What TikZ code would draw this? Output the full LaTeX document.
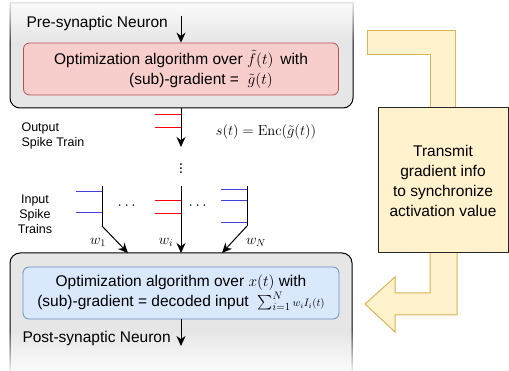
\RequirePackage{fix-cm}
\documentclass[tikz,border=0pt]{standalone}
\usepackage{amsmath}
\usepackage[no-math]{fontspec}
\setmainfont{Liberation Sans}
\usetikzlibrary{fadings,positioning,calc,arrows.meta}
\definecolor{pinkfill}{HTML}{F8CECC}
\definecolor{pinkline}{HTML}{B85450}
\definecolor{bluefill}{HTML}{DAE8FC}
\definecolor{blueline}{HTML}{6C8EBF}
\definecolor{yellowfill}{HTML}{FFF2CC}
\definecolor{yellowline}{HTML}{D6B656}
\definecolor{grayfill}{HTML}{E6E6E6}
\definecolor{spikeblue}{HTML}{3F3FD9}

\begin{document}
\begin{tikzpicture}[x=1pt,y=-1pt,
	every node/.style={font=\fontsize{15.5}{20}\selectfont},
	arr/.style={black,line width=1pt,-{Stealth[length=10pt,width=9pt]}},
	smalltext/.style={font=\fontsize{12.5}{15}\selectfont},
	mathlabel/.style={font=\fontsize{14.5}{16}\selectfont},
	yellowarrow/.style={fill=yellowfill,draw=yellowline,line width=1pt}]
	\useasboundingbox (0,0) rectangle (509,371);
	
	% pre-synaptic neuron
	\fill[grayfill] (10,3) -- (353,3) {[rounded corners=10] -- (353,108) -- (10,108)} -- cycle;
	\draw[black,line width=1pt] (10,3) -- (353,3) {[rounded corners=10] -- (353,108) -- (10,108)} -- cycle;
	\fill[white,fill opacity=0.85,path fading=south] (9,2) rectangle (354,42);
	
	% post-synaptic neuron
	\fill[grayfill] (10,372) {[rounded corners=10] -- (10,253) -- (352,253)} -- (352,372) -- cycle;
	\draw[black,line width=1pt] (10,372) {[rounded corners=10] -- (10,253) -- (352,253)} -- (352,372);
	\fill[white,fill opacity=0.9,path fading=north] (9,330) rectangle (353,372);
	
	\node[anchor=west] (pre label) at (23,23) {Pre-synaptic Neuron};
	\node[draw=pinkline,fill=pinkfill,rounded corners=6,line width=0.8pt,minimum width=315,minimum height=52,align=center] (pink) at (181,69)
		{Optimization algorithm over $\tilde{f}(t)$\ \,with\\\hspace*{40pt}(sub)-gradient = \ $\tilde{g}(t)$};
	\coordinate (Above pink) at (181,16);
	\draw[arr] (Above pink) -- (pink.north);
	
	\node[draw=blueline,fill=bluefill,rounded corners=6,line width=0.8pt,minimum width=316,minimum height=52,align=center] (blue) at (181,293)
		{Optimization algorithm over $x(t)$ with\\(sub)-gradient = decoded input \ $\sum_{i=1}^{N}\scriptstyle w_iI_i(t)$};
	\node[anchor=west] (post label) at (19,338) {Post-synaptic Neuron};
	\coordinate (Below blue) at (181,346);
	\draw[arr] (blue.south) -- (Below blue);
	
	% output spike train
	\coordinate (Out top) at (181,108);
	\coordinate (Out tip) at (181,147);
	\foreach \y in {115,128}
		\draw[red,line width=1pt] (155,\y) -- (181,\y);
	\draw[arr] (Out top) -- (Out tip);
	\node[smalltext,anchor=west,align=left] (out label) at (18,136) {Output\\Spike Train};
	\node[mathlabel] (enc) at (266,132) {$s(t) = \mathrm{Enc}(\tilde{g}(t))$};
	\node[inner sep=0pt] (vdots) at (181,166) {$\vdots$};
	
	% input spike trains
	\foreach \x/\col/\ys [count=\k] in {102/spikeblue/{192,213},181/red/{201,214},247/spikeblue/{190,201,223}}{
		\foreach \y in \ys
			\draw[\col,line width=1pt] (\x-26,\y) -- (\x,\y);
		\draw[black,line width=1pt] (\x,186) -- (\x,226) coordinate (Train \k);
	}
	\node (dots 1) at (128,206) {$\cdots$};
	\node (dots 2) at (199,206) {$\cdots$};
	\node[smalltext,align=center] (in label) at (35,214) {Input\\Spike\\Trains};
	
	\coordinate (Post in 1) at (128,253);
	\coordinate (Post in 2) at (181,253);
	\coordinate (Post in 3) at (222,253);
	\foreach \k in {1,2,3}
		\draw[arr] (Train \k) -- (Post in \k);
	\node[mathlabel] (w1) at (98,242) {$w_1$};
	\node[mathlabel] (wi) at (166,242) {$w_i$};
	\node[mathlabel] (wN) at (256,242) {$w_N$};
	
	% gradient info loop
	\draw[yellowarrow] (430,108) -- (430,55) -- (367,55) -- (367,31) -- (455,31) -- (455,108);
	\draw[yellowarrow] (430,253) -- (430,293) -- (395,293) -- (395,277) -- (365,304) -- (395,332) -- (395,315) -- (457,315) -- (457,253);
	\node[draw=black!85,fill=yellowfill,line width=1pt,minimum width=130,minimum height=145,align=center] (sync) at (443,180.5)
		{Transmit\\gradient info\\to synchronize\\activation value};
\end{tikzpicture}
\end{document}
